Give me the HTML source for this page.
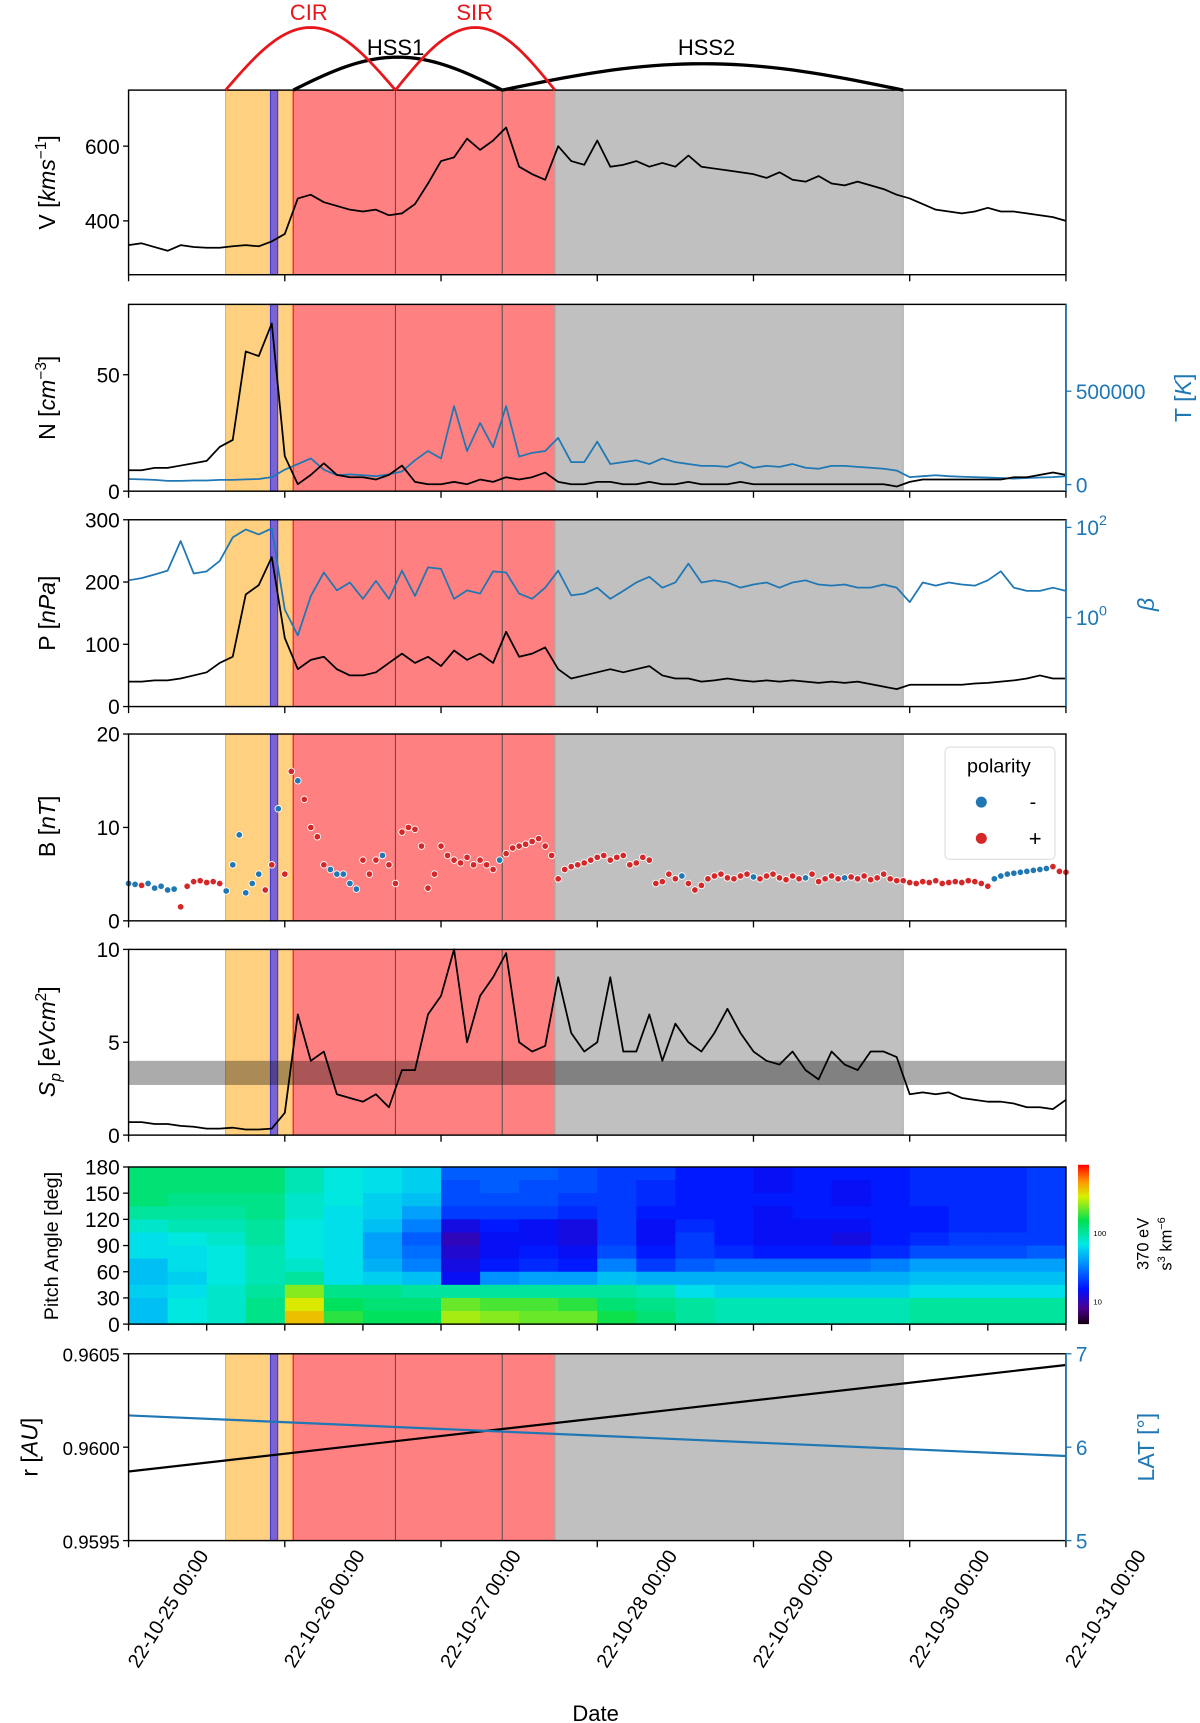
<!DOCTYPE html>
<html><head><meta charset="utf-8"><title>Solar wind event overview 22-10-25 to 22-10-31</title>
<style>
html,body{margin:0;padding:0;background:#fff;}
svg{display:block;font-family:"Liberation Sans","DejaVu Sans",sans-serif;}
.tk{font-size:19px;fill:#000;}
.tks{font-size:17px;fill:#000;}
.tkb{font-size:19px;fill:#1f77b4;}
.lab{font-size:21px;fill:#000;}
.labb{font-size:21px;fill:#1f77b4;}
</style></head>
<body>
<svg id="fig" width="1200" height="1723" viewBox="0 0 1092 1568" preserveAspectRatio="none" xmlns="http://www.w3.org/2000/svg">
<defs>
<linearGradient id="cbgrad" x1="0" y1="1" x2="0" y2="0">
<stop offset="0" stop-color="#140010"/><stop offset="0.1" stop-color="#4b0090"/><stop offset="0.22" stop-color="#0010ff"/>
<stop offset="0.38" stop-color="#0090ff"/><stop offset="0.5" stop-color="#00e8e8"/><stop offset="0.65" stop-color="#00e050"/>
<stop offset="0.8" stop-color="#d8f000"/><stop offset="0.9" stop-color="#ff9000"/><stop offset="1" stop-color="#ff0000"/>
</linearGradient>
</defs>
<g id="shades"></g>
<g id="heat"></g>
<g id="marks"></g>
<g id="axes"></g>
<g id="arcs"></g>

<text x="281" y="18" text-anchor="middle" font-size="20" fill="#e8161b">CIR</text>
<text x="432" y="18" text-anchor="middle" font-size="20" fill="#e8161b">SIR</text>
<text x="360" y="50" text-anchor="middle" font-size="20" fill="#000">HSS1</text>
<text x="643" y="50" text-anchor="middle" font-size="20" fill="#000">HSS2</text>

<text class="lab" transform="translate(50,166) rotate(-90)" text-anchor="middle">V [<tspan font-style="italic">kms</tspan><tspan font-size="14" dy="-8">−1</tspan><tspan dy="8">]</tspan></text>
<text class="lab" transform="translate(50,362) rotate(-90)" text-anchor="middle">N [<tspan font-style="italic">cm</tspan><tspan font-size="14" dy="-8">−3</tspan><tspan dy="8">]</tspan></text>
<text class="labb" transform="translate(1084,362) rotate(-90)" text-anchor="middle">T [<tspan font-style="italic">K</tspan>]</text>
<text class="lab" transform="translate(50,558) rotate(-90)" text-anchor="middle">P [<tspan font-style="italic">nPa</tspan>]</text>
<text class="labb" transform="translate(1050,550) rotate(-90)" text-anchor="middle" font-style="italic">β</text>
<text class="lab" transform="translate(50,752) rotate(-90)" text-anchor="middle">B [<tspan font-style="italic">nT</tspan>]</text>
<text class="lab" transform="translate(50,948) rotate(-90)" text-anchor="middle"><tspan font-style="italic">S</tspan><tspan font-size="14" dy="5" font-style="italic">p</tspan><tspan dy="-5"> [</tspan><tspan font-style="italic">eVcm</tspan><tspan font-size="14" dy="-8">2</tspan><tspan dy="8">]</tspan></text>
<text transform="translate(53,1134) rotate(-90)" text-anchor="middle" font-size="18">Pitch Angle [deg]</text>
<text class="lab" transform="translate(34,1317) rotate(-90)" text-anchor="middle">r [<tspan font-style="italic">AU</tspan>]</text>
<text class="labb" transform="translate(1050,1317) rotate(-90)" text-anchor="middle">LAT [°]</text>
<text x="542" y="1566" text-anchor="middle" font-size="20">Date</text>

<g>
<rect x="981" y="1060" width="10" height="145" fill="url(#cbgrad)"/>
<text x="995" y="1125" font-size="7">100</text>
<text x="995" y="1187" font-size="7">10</text>
<text transform="translate(1045,1132) rotate(-90)" text-anchor="middle" font-size="15">370 eV</text>
<text transform="translate(1066,1132) rotate(-90)" text-anchor="middle" font-size="15">s<tspan font-size="10" dy="-6">3</tspan><tspan dy="6"> km</tspan><tspan font-size="10" dy="-6">−6</tspan></text>
</g>

<g>
<rect x="860" y="680" width="100" height="102" rx="4" fill="#fff" fill-opacity="0.85" stroke="#ddd"/>
<text x="909" y="703" text-anchor="middle" font-size="18">polarity</text>
<circle cx="893" cy="730" r="5" fill="#1f77b4"/>
<text x="940" y="736" text-anchor="middle" font-size="18">-</text>
<circle cx="893" cy="763" r="5" fill="#d62728"/>
<text x="942" y="770" text-anchor="middle" font-size="20">+</text>
</g>
</svg>
<script>
// ---------- data ----------
const hours = [0,2,4,6,8,10,12,14,16,18,20,22,24,26,28,30,32,34,36,38,40,42,44,46,48,50,52,54,56,58,60,62,64,66,68,70,72,74,76,78,80,82,84,86,88,90,92,94,96,98,100,102,104,106,108,110,112,114,116,118,120,122,124,126,128,130,132,134,136,138,140,142,144];
const speedV = [335,340,330,320,335,330,328,328,332,335,332,345,365,460,470,450,440,430,425,430,415,420,445,500,560,570,620,590,615,650,545,525,510,600,560,550,615,545,550,560,545,555,545,575,545,540,535,530,525,515,530,510,505,520,500,495,505,495,485,470,460,445,430,425,420,425,435,425,425,420,415,410,400];
const densityN = [9,9,10,10,11,12,13,19,22,60,58,72,15,3,7,12,7,6,6,5,7,11,4,3,3,4,3,5,4,6,5,6,8,4,3,3,4,4,3,3,4,3,3,4,3,3,3,4,3,3,3,3,3,3,3,3,3,3,3,2,4,5,5,5,5,5,5,5,6,6,7,8,7];
const tempT_kK = [30,28,25,20,20,22,22,25,25,28,30,40,80,110,140,80,50,55,50,45,55,70,130,180,140,420,180,330,200,420,150,170,180,250,120,120,230,110,120,130,110,140,120,110,100,100,95,120,90,100,95,110,90,85,100,100,95,90,85,75,40,45,50,45,42,40,38,35,32,35,38,40,45];
const pressureP = [40,40,42,42,45,50,55,70,80,180,195,240,110,60,75,80,60,50,50,55,70,85,70,80,65,90,75,85,70,120,80,85,95,60,45,50,55,60,55,60,65,50,45,45,40,42,45,42,40,42,40,42,40,38,40,38,40,36,32,28,35,35,35,35,35,37,38,40,42,45,50,45,45];
const betaVals = [6.7,7.5,9,11,50,9.5,10.6,18,60,90,70,95,1.5,0.4,3,10,4,6,2.6,6.5,2.6,11,3,13,12,2.6,4,3.4,10.6,10,3.4,2.6,4.6,11,3.1,3.4,4.6,2.6,3.9,6,8,4.6,6,15.7,6,6.7,6,4.6,5.4,6,4.6,6,6.7,5.4,5.1,5.4,4.6,4.6,5.4,4.6,2.2,6,5.1,6,5.4,5.1,6.7,10.6,4.6,3.9,3.9,4.6,3.9];
const entropySp = [0.7,0.7,0.6,0.6,0.5,0.45,0.35,0.35,0.4,0.3,0.3,0.35,1.2,6.5,4,4.5,2.2,2.0,1.8,2.2,1.5,3.5,3.5,6.5,7.5,10,5,7.5,8.5,9.8,5,4.5,4.8,8.5,5.5,4.5,5,8.5,4.5,4.5,6.5,4,6,5,4.5,5.5,6.8,5.5,4.5,4.0,3.8,4.5,3.5,3.0,4.5,3.8,3.5,4.5,4.5,4.2,2.2,2.3,2.2,2.3,2.0,1.9,1.8,1.8,1.7,1.5,1.5,1.4,1.9];
const fieldB = [4,3.9,3.8,4,3.5,3.7,3.3,3.4,1.5,3.7,4.2,4.3,4.1,4.2,4,
 3.2,6,9.2,3,4,5,3.3,6,
 12,5,16,15,13,10,9,
 6,5.5,5,5,4,3.4,6.5,5,6.5,7,6,
 4,9.5,10,9.8,8,3.5,5,8,7,
 6.5,6.2,6.8,6,6.5,6,5.5,6.5,7.2,7.8,
 8,8.2,8.5,8.8,8,7,
 4.5,5.5,5.8,6,6.2,6.5,6.8,7,6.5,6.8,7,6,6.2,6.8,6.5,
 4,4.2,5,4.5,4.8,4,3.3,3.8,4.5,4.8,5,4.6,
 4.5,4.8,5,4.7,4.5,4.8,5,4.6,4.4,4.8,4.5,4.6,5,4.2,4.5,4.8,4.5,4.6,4.7,4.5,4.8,4.4,4.6,5,4.5,4.3,
 4.3,4.1,4,4.2,4.1,4.3,4,4.1,4.2,4.1,4.3,4.2,4,
 3.7,4.5,4.8,5,5.1,5.2,5.3,5.4,5.5,5.6,5.8,5.3,5.2];
const polarityB = [-1,-1,1,-1,-1,-1,-1,-1,1,1,1,1,1,1,1,
 -1,-1,-1,-1,-1,-1,1,1,
 -1,1,1,-1,1,1,1,
 1,-1,-1,-1,-1,-1,1,1,1,-1,1,
 1,1,1,1,1,1,1,1,1,
 1,1,1,1,1,1,1,-1,1,1,
 1,1,1,1,1,1,
 1,1,1,1,1,1,1,1,1,1,1,1,1,1,1,
 1,1,1,1,-1,1,1,1,1,1,1,1,
 1,1,1,-1,1,1,1,1,1,1,1,-1,1,1,1,1,1,-1,1,1,1,1,1,1,1,1,
 1,1,1,1,1,1,1,1,1,1,1,1,1,
 1,-1,-1,-1,-1,-1,-1,-1,-1,-1,1,1,1];
// pitch-angle log10 flux, 6-hour columns, rows from 165-180 deg down to 0-15 deg
const pitchLogFlux = [
 [2.1,2.1,2.1,2.0,1.9,1.8,1.8,1.7,1.7,1.75,1.7,1.7],
 [2.1,2.1,2.05,2.0,1.95,1.85,1.8,1.8,1.75,1.8,1.85,1.85],
 [2.1,2.1,2.05,2.0,1.95,1.9,1.85,1.85,1.85,1.9,1.9,1.9],
 [2.1,2.1,2.05,2.05,2.0,2.0,1.95,1.95,1.95,2.0,2.05,2.05],
 [1.95,1.95,1.9,1.9,1.85,1.85,1.85,1.9,2.0,2.4,2.55,2.65],
 [1.85,1.85,1.85,1.8,1.8,1.8,1.8,1.8,1.8,2.05,2.15,2.25],
 [1.8,1.8,1.75,1.75,1.7,1.6,1.6,1.65,1.75,2.05,2.1,2.15],
 [1.75,1.75,1.7,1.6,1.5,1.4,1.45,1.5,1.7,2.0,2.1,2.15],
 [1.4,1.35,1.35,1.3,1.1,1.0,1.05,1.1,1.15,2.0,2.35,2.45],
 [1.4,1.4,1.35,1.3,1.2,1.15,1.15,1.2,1.55,2.0,2.3,2.4],
 [1.4,1.35,1.35,1.3,1.15,1.15,1.2,1.25,1.6,2.0,2.3,2.35],
 [1.35,1.35,1.3,1.25,1.1,1.1,1.15,1.2,1.6,2.0,2.25,2.35],
 [1.3,1.3,1.3,1.3,1.3,1.3,1.35,1.5,1.7,2.0,2.1,2.2],
 [1.3,1.25,1.25,1.2,1.15,1.15,1.2,1.3,1.65,1.95,2.05,2.1],
 [1.2,1.2,1.2,1.2,1.25,1.3,1.3,1.4,1.65,1.8,2.0,2.0],
 [1.2,1.2,1.2,1.2,1.2,1.2,1.25,1.45,1.65,1.75,1.95,1.95],
 [1.15,1.15,1.2,1.15,1.15,1.15,1.2,1.45,1.65,1.75,1.95,1.95],
 [1.2,1.2,1.2,1.2,1.15,1.15,1.2,1.45,1.65,1.75,1.95,1.95],
 [1.2,1.15,1.15,1.2,1.15,1.1,1.2,1.45,1.65,1.75,1.95,1.95],
 [1.2,1.2,1.2,1.2,1.2,1.2,1.25,1.5,1.65,1.75,1.95,1.95],
 [1.25,1.25,1.25,1.2,1.2,1.25,1.35,1.6,1.7,1.8,2.0,2.0],
 [1.25,1.25,1.25,1.25,1.25,1.3,1.35,1.6,1.7,1.8,2.0,2.0],
 [1.25,1.25,1.25,1.25,1.25,1.3,1.35,1.6,1.7,1.8,2.0,2.0],
 [1.3,1.3,1.3,1.3,1.3,1.3,1.4,1.6,1.7,1.8,2.0,2.0]];
const posHours = [0,144];
const radiusR = [0.95987,0.96044];
const latitudeLat = [6.34,5.906];
// event intervals (hours from 22-10-25 00:00)
const orangeSpan = [14.9,25.3];
const purpleSpan = [21.8,22.9];
const redSpan = [25.3,65.5];
const redDividers = [41.0,57.4];
const graySpan = [65.5,119.0];
const cirSpan = [14.9,41.0], sirSpan = [41.0,65.5], hss1Span = [25.3,57.4], hss2Span = [57.4,119.0];
const dayLabels = ["22-10-25 00:00","22-10-26 00:00","22-10-27 00:00","22-10-28 00:00","22-10-29 00:00","22-10-30 00:00","22-10-31 00:00"];
const vTicks=[400,600], nTicks=[0,50], tTicks=[0,500000], pTicks=[0,100,200,300], betaTicks=[0,2], bTicks=[0,10,20], spTicks=[0,5,10], paTicks=[0,30,60,90,120,150,180], rTicks=[0.9595,0.96,0.9605], latTicks=[5,6,7];
const spBand=[2.7,4.0];

// ---------- layout ----------
const NS="http://www.w3.org/2000/svg";
const X0=117, X1=970, HMAX=144;
const xOf = h => X0 + (h/HMAX)*(X1-X0);
function lin(d0,d1,top,bot){return v => bot - (v-d0)/(d1-d0)*(bot-top);}
const P1={top:82,bot:250}, P2={top:277,bot:447}, P3={top:473,bot:643}, P4={top:668,bot:838}, P5={top:864,bot:1033}, P6={top:1062,bot:1205}, P7={top:1232,bot:1402};
const yV=lin(255.9,750,P1.top,P1.bot), yN=lin(0,80.2,P2.top,P2.bot), yT=lin(-35294,964706,P2.top,P2.bot);
const yP=lin(0,300,P3.top,P3.bot), yBetaLog=lin(-1.976,2.17,P3.top,P3.bot), yBeta=b=>yBetaLog(Math.log10(b));
const yB=lin(0,20,P4.top,P4.bot), ySp=lin(0,10,P5.top,P5.bot), yPA=lin(0,180,P6.top,P6.bot);
const yR=lin(0.9595,0.9605,P7.top,P7.bot), yLat=lin(5,7,P7.top,P7.bot);

function mk(tag,attrs,parent){const e=document.createElementNS(NS,tag);for(const k in attrs)e.setAttribute(k,attrs[k]);parent.appendChild(e);return e;}
const gS=document.getElementById('shades'), gH=document.getElementById('heat'), gM=document.getElementById('marks'), gA=document.getElementById('axes'), gArc=document.getElementById('arcs');

// ---------- shading ----------
[P1,P2,P3,P4,P5,P7].forEach((p,i)=>{
  let el=mk('rect',{x:xOf(orangeSpan[0]),y:p.top,width:xOf(orangeSpan[1])-xOf(orangeSpan[0]),height:p.bot-p.top,fill:'#fed07f',stroke:'#f5b342','stroke-width':1},gS);
  
  
  el=mk('rect',{x:xOf(purpleSpan[0]),y:p.top,width:xOf(purpleSpan[1])-xOf(purpleSpan[0]),height:p.bot-p.top,fill:'#7b63d0',stroke:'#3a3ae0','stroke-width':1},gS);
  
  
  el=mk('rect',{x:xOf(redSpan[0]),y:p.top,width:xOf(redSpan[1])-xOf(redSpan[0]),height:p.bot-p.top,fill:'#ff8080',stroke:'none'},gS);
  
  
  el=mk('line',{x1:xOf(redSpan[0]),x2:xOf(redSpan[0]),y1:p.top,y2:p.bot,stroke:'#ff2020','stroke-width':1.2},gS);
  
  
  el=mk('rect',{x:xOf(graySpan[0]),y:p.top,width:xOf(graySpan[1])-xOf(graySpan[0]),height:p.bot-p.top,fill:'#c0c0c0',stroke:'#a8a8a8','stroke-width':1},gS);
  
  
  redDividers.forEach(h=>{
    const d=mk('line',{x1:xOf(h),x2:xOf(h),y1:p.top,y2:p.bot,stroke:'#555','stroke-width':1},gS);
    
    
  });
});
{
  const b=mk('rect',{x:X0,y:ySp(spBand[1]),width:X1-X0,height:ySp(spBand[0])-ySp(spBand[1]),fill:'#000','fill-opacity':0.33},gS);
  
  
}

// ---------- heatmap ----------
function cmap(t){
  const st=[[0,[20,0,16]],[0.1,[75,0,144]],[0.22,[0,16,255]],[0.38,[0,144,255]],[0.5,[0,232,232]],[0.65,[0,224,80]],[0.8,[216,240,0]],[0.9,[255,144,0]],[1,[255,0,0]]];
  t=Math.max(0,Math.min(1,t));
  for(let i=1;i<st.length;i++){if(t<=st[i][0]){const a=st[i-1],b=st[i],f=(t-a[0])/(b[0]-a[0]);const c=a[1].map((v,k)=>Math.round(v+(b[1][k]-v)*f));return `rgb(${c[0]},${c[1]},${c[2]})`;}}
  return 'rgb(255,0,0)';
}
const colW=(X1-X0)/pitchLogFlux.length;
pitchLogFlux.forEach((col,ci)=>{
  col.forEach((v,ri)=>{
    const a1=180-ri*15, a0=a1-15;
    const c=mk('rect',{x:X0+ci*colW,y:yPA(a1),width:colW+0.6,height:yPA(a0)-yPA(a1)+0.6,fill:cmap((v-0.66)/(3-0.66))},gH);
    
    
  });
});

// ---------- lines ----------
function line(xs,ys,fx,fy,color,w,name){
  const d=xs.map((h,i)=>(i?'L':'M')+xOf(h).toFixed(2)+','+fy(ys[i]).toFixed(2)).join('');
  const p=mk('path',{d:d,fill:'none',stroke:color,'stroke-width':w,'stroke-linejoin':'round'},gM);
  
  
}
line(hours,speedV,xOf,yV,'#000',1.6,'speed-line');
line(hours,tempT_kK.map(t=>t*1000),xOf,yT,'#1f77b4',1.6,'temperature-line');
line(hours,densityN,xOf,yN,'#000',1.6,'density-line');
line(hours,betaVals,xOf,yBeta,'#1f77b4',1.6,'beta-line');
line(hours,pressureP,xOf,yP,'#000',1.6,'pressure-line');
line(hours,entropySp,xOf,ySp,'#000',1.6,'entropy-line');
line(posHours,radiusR,xOf,yR,'#000',2,'radius-line');
line(posHours,latitudeLat,xOf,yLat,'#1f77b4',2,'latitude-line');
fieldB.forEach((b,i)=>{
  const c=mk('circle',{cx:xOf(i),cy:yB(b),r:3,fill:polarityB[i]>0?'#d62728':'#1f77b4',stroke:'#fff','stroke-width':0.8},gM);
  
  
});

// ---------- axes ----------
function txt(x,y,s,cls,anchor,name){
  const t=mk('text',{x:x,y:y,'text-anchor':anchor||'end',class:cls||'tk'},gA);
  t.textContent=s;
  
  
  return t;
}
function leftAxis(ticks,fy,fmt,name,cls){
  ticks.forEach(v=>{
    const l=mk('line',{x1:X0-5,x2:X0,y1:fy(v),y2:fy(v),stroke:'#000','stroke-width':1.2},gA);
    
    
    txt(X0-8,fy(v)+7,fmt?fmt(v):String(v),cls||'tk','end',name+'-tick-label');
  });
}
function rightAxis(ticks,fy,fmt,name){
  ticks.forEach(v=>{
    const l=mk('line',{x1:X1,x2:X1+5,y1:fy(v),y2:fy(v),stroke:'#1f77b4','stroke-width':1.2},gA);
    
    
    txt(X1+9,fy(v)+7,fmt?fmt(v):String(v),'tkb','start',name+'-tick-label');
  });
}
function frame(p,twin,step){
  const r=mk('rect',{x:X0,y:p.top,width:X1-X0,height:p.bot-p.top,fill:'none',stroke:'#000','stroke-width':1.3},gA);
  
  
  if(twin){
    const s=mk('line',{x1:X1,x2:X1,y1:p.top,y2:p.bot,stroke:'#1f77b4','stroke-width':1.6},gA);
    
    
  }
  for(let h=0;h<=HMAX;h+=step){
    const t=mk('line',{x1:xOf(h),x2:xOf(h),y1:p.bot,y2:p.bot+6,stroke:'#000','stroke-width':1.2},gA);
    
    
  }
}
frame(P1,false,24);frame(P2,true,24);frame(P3,true,24);frame(P4,false,24);frame(P5,false,24);frame(P6,false,12);frame(P7,true,24);
leftAxis(vTicks,yV,null,'v-axis');
leftAxis(nTicks,yN,null,'n-axis');
rightAxis(tTicks,yT,null,'t-axis');
leftAxis(pTicks,yP,null,'p-axis');
leftAxis(bTicks,yB,null,'b-axis');
leftAxis(spTicks,ySp,null,'sp-axis');
leftAxis(paTicks,yPA,null,'pitch-axis');
leftAxis(rTicks,yR,v=>v.toFixed(4),'r-axis','tks');
rightAxis(latTicks,yLat,null,'lat-axis');
betaTicks.forEach(e=>{
  const y=yBetaLog(e);
  const l=mk('line',{x1:X1,x2:X1+5,y1:y,y2:y,stroke:'#1f77b4','stroke-width':1.2},gA);
  
  
  const t=txt(X1+9,y+7,'10','tkb','start','beta-axis-tick-label');
  const s=document.createElementNS(NS,'tspan');
  s.setAttribute('dy','-9');s.setAttribute('font-size','13');s.textContent=String(e);
  t.appendChild(s);
});
dayLabels.forEach((s,i)=>{
  const cx=xOf(i*24)+36, cy=1464;
  const t=mk('text',{x:cx,y:cy+6,'text-anchor':'middle','font-size':18,transform:`rotate(-58 ${cx} ${cy})`},gA);
  t.textContent=s;
  
  
});

// ---------- arcs ----------
function arc(span,h,color,w,name){
  const x0=xOf(span[0]),x1=xOf(span[1]);let d='';
  for(let i=0;i<=40;i++){const f=i/40;d+=(i?'L':'M')+(x0+(x1-x0)*f).toFixed(2)+','+(P1.top-h*Math.sin(Math.PI*f)).toFixed(2);}
  const p=mk('path',{d:d,fill:'none',stroke:color,'stroke-width':w},gArc);
  
  
}
arc(hss1Span,30,'#000',3,'hss1-arc');
arc(hss2Span,24,'#000',3,'hss2-arc');
arc(cirSpan,57,'#e8161b',2.5,'cir-arc');
arc(sirSpan,57,'#e8161b',2.5,'sir-arc');
</script>
</body></html>
